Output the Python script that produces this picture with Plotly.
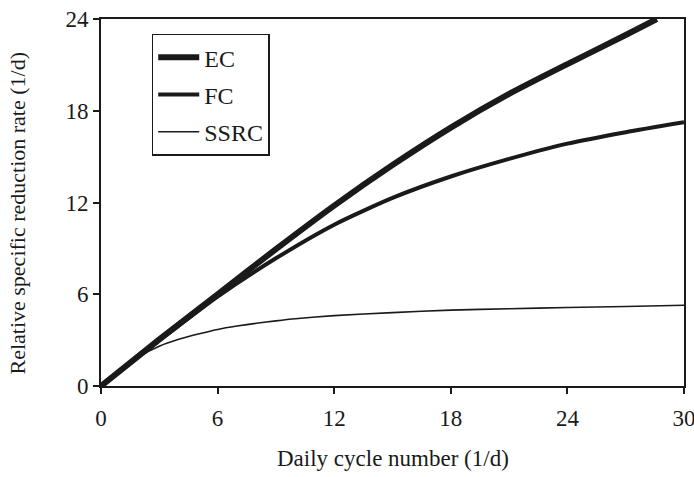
import plotly.graph_objects as go

# Data
ec_x = [0, 3, 6, 9, 12, 15, 18, 21, 24, 27, 28.6]
ec_y = [0, 3.05, 6.0, 8.95, 11.8, 14.45, 16.9, 19.1, 21.05, 22.95, 24.0]

fc_x = [0, 2, 4, 6, 9, 12, 15, 18, 21, 24, 27, 30]
fc_y = [0, 2.0, 3.95, 5.85, 8.35, 10.55, 12.3, 13.7, 14.85, 15.85, 16.6, 17.25]

ssrc_x = [0, 1, 2, 3, 4, 5, 6, 7, 8, 9, 10, 12, 15, 18, 21, 24, 27, 30]
ssrc_y = [0, 1.0, 1.95, 2.6, 3.05, 3.4, 3.7, 3.92, 4.1, 4.26, 4.4, 4.6, 4.8, 4.96, 5.05, 5.13, 5.2, 5.28]

x_ticks = [0, 6, 12, 18, 24, 30]
y_ticks = [0, 6, 12, 18, 24]

INK = "#1a1a1a"
FONT = "Liberation Serif"

fig = go.Figure()
fig.add_trace(go.Scatter(x=ec_x, y=ec_y, mode="lines", name="EC", legendgroup="a",
                         line=dict(color=INK, width=6, shape="spline", smoothing=0.6)))
fig.add_trace(go.Scatter(x=fc_x, y=fc_y, mode="lines", name="FC", legendgroup="b",
                         line=dict(color=INK, width=4, shape="spline", smoothing=0.6)))
fig.add_trace(go.Scatter(x=ssrc_x, y=ssrc_y, mode="lines", name="SSRC", legendgroup="c",
                         line=dict(color=INK, width=1.6, shape="spline", smoothing=0.6)))

fig.update_layout(
    width=694, height=477,
    margin=dict(l=101, r=10, t=19, b=91),
    paper_bgcolor="white", plot_bgcolor="white",
    font=dict(family=FONT, size=23, color=INK),
    showlegend=True,
    legend=dict(
        x=0.087, y=0.96, xanchor="left", yanchor="top",
        bgcolor="white", bordercolor=INK, borderwidth=1.5,
        font=dict(family=FONT, size=24, color=INK),
        tracegroupgap=3, traceorder="grouped",
        itemwidth=41,
    ),
    xaxis=dict(
        range=[0, 30], tickvals=x_ticks, ticktext=[str(v) for v in x_ticks],
        showgrid=False, zeroline=False, automargin=False,
        showline=True, linecolor=INK, linewidth=2, mirror=True,
        ticks="outside", ticklen=6, tickwidth=2, tickcolor=INK,
        tickfont=dict(family=FONT, size=23), ticklabeloverflow="allow",
        ticklabelstandoff=4,
    ),
    yaxis=dict(
        range=[0, 24], tickvals=y_ticks, ticktext=[str(v) for v in y_ticks],
        showgrid=False, zeroline=False, automargin=False,
        showline=True, linecolor=INK, linewidth=2, mirror=True,
        ticks="outside", ticklen=6, tickwidth=2, tickcolor=INK,
        tickfont=dict(family=FONT, size=23), ticklabeloverflow="allow",
    ),
    annotations=[
        dict(text="Daily cycle number (1/d)", xref="paper", yref="paper",
             x=0.5, y=0, xanchor="center", yanchor="middle", yshift=-72,
             showarrow=False, font=dict(family=FONT, size=23, color=INK)),
        dict(text="Relative specific reduction rate (1/d)", xref="paper", yref="paper",
             x=0, y=0.47, xanchor="center", yanchor="middle", xshift=-83, textangle=-90,
             showarrow=False, font=dict(family=FONT, size=22, color=INK)),
    ],
)

fig.write_html("out.html")
